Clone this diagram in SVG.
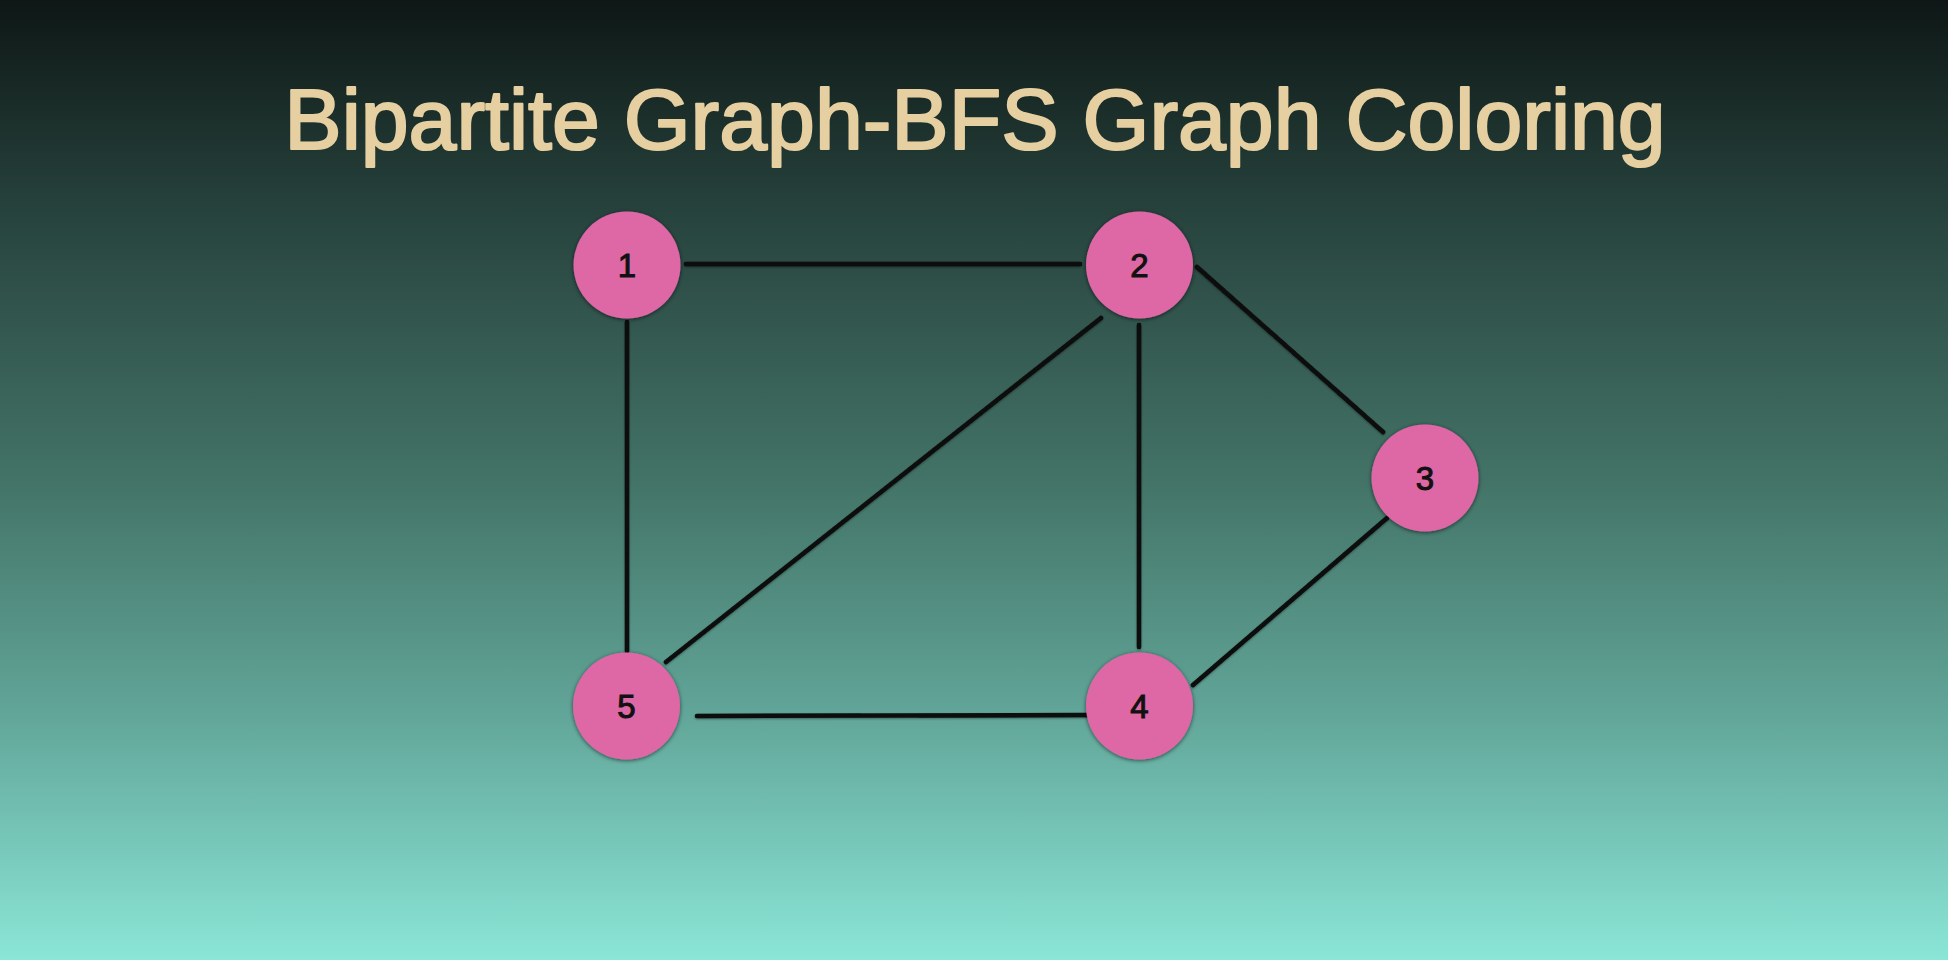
<svg xmlns="http://www.w3.org/2000/svg" width="1948" height="960" viewBox="0 0 1948 960">
  <defs>
    <linearGradient id="bg" x1="0" y1="0" x2="0" y2="1">
      <stop offset="0" stop-color="#0e1715"/>
      <stop offset="0.25" stop-color="#2a4842"/>
      <stop offset="0.5" stop-color="#437367"/>
      <stop offset="0.75" stop-color="#62a79a"/>
      <stop offset="1" stop-color="#8be6d7"/>
    </linearGradient>
    <filter id="shadow" x="-20%" y="-20%" width="140%" height="140%">
      <feDropShadow dx="0" dy="1" stdDeviation="2" flood-color="#000" flood-opacity="0.6"/>
    </filter>
    <filter id="lshadow" x="-5%" y="-5%" width="110%" height="110%">
      <feDropShadow dx="0" dy="1" stdDeviation="1.2" flood-color="#000" flood-opacity="0.4"/>
    </filter>
  </defs>
  <style>
    .title { font-family: "Liberation Sans", Arial, sans-serif; font-size: 86px; fill: #e6cfa0; stroke: #e6cfa0; stroke-width: 2.2px; stroke-linejoin: round; text-anchor: middle; }
    .node circle { fill: #dd67a5; filter: url(#shadow); }
    .node text { font-family: "Liberation Sans", Arial, sans-serif; font-size: 33px; fill: #111; stroke: #111; stroke-width: 1px; text-anchor: middle; }
    .edge { stroke: #0a0a0a; stroke-width: 4.5; stroke-linecap: round; fill: none; }
  </style>
  <rect x="0" y="0" width="1948" height="960" fill="url(#bg)"/>
  <text class="title" x="975" y="149">Bipartite Graph-BFS Graph Coloring</text>
  <g id="connectors" filter="url(#lshadow)">
    <line class="edge" x1="686" y1="264" x2="1080" y2="264"/>
    <line class="edge" x1="627" y1="322" x2="627" y2="651"/>
    <line class="edge" x1="1101" y1="318" x2="666" y2="662"/>
    <line class="edge" x1="1139" y1="325" x2="1139" y2="647"/>
    <line class="edge" x1="1197" y1="267" x2="1383" y2="432"/>
    <line class="edge" x1="1387" y1="518" x2="1193" y2="685"/>
    <line class="edge" x1="697" y1="716" x2="1091" y2="715"/>
  </g>
  <g id="node1" class="node"><circle cx="627" cy="265" r="53.5"/><text x="627" y="277">1</text></g>
  <g id="node2" class="node"><circle cx="1139.5" cy="265" r="53.5"/><text x="1139.5" y="277">2</text></g>
  <g id="node3" class="node"><circle cx="1425" cy="478" r="53.5"/><text x="1425" y="490">3</text></g>
  <g id="node4" class="node"><circle cx="1139.5" cy="706" r="53.5"/><text x="1139.5" y="718">4</text></g>
  <g id="node5" class="node"><circle cx="626.5" cy="706" r="53.5"/><text x="626.5" y="718">5</text></g>
</svg>
